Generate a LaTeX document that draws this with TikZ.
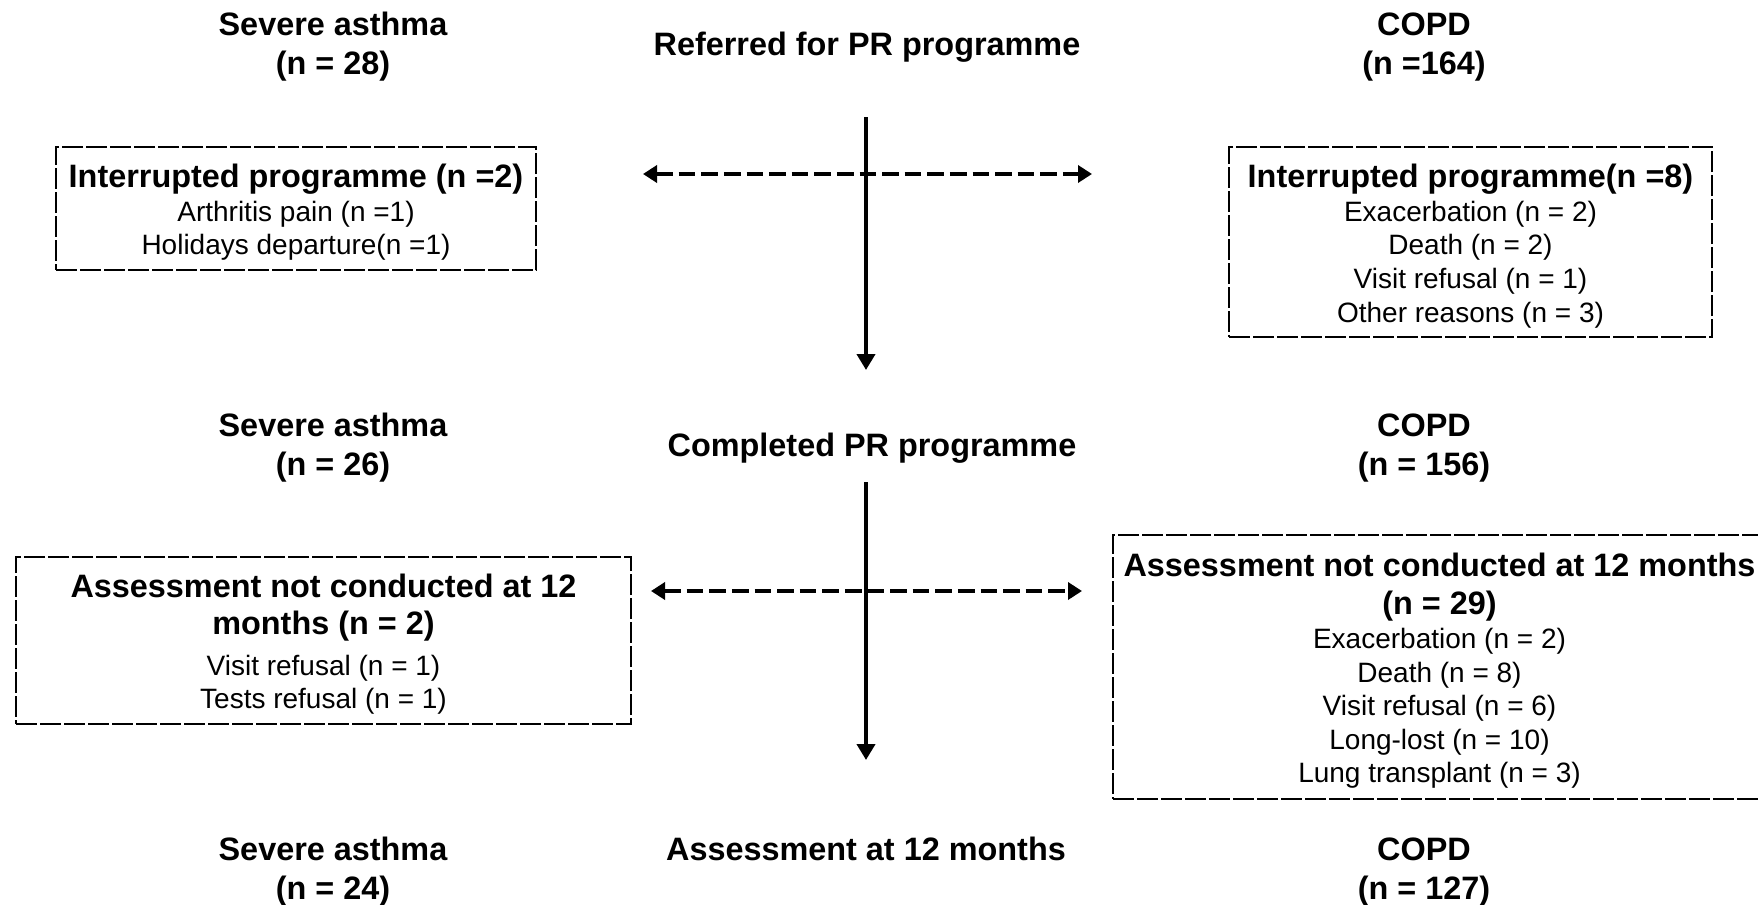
\documentclass[tikz,border=0pt]{standalone}
\usepackage{fontspec}
\setmainfont{Liberation Sans}
\usetikzlibrary{arrows.meta}
\tikzset{
  head/.style={
    font=\bfseries\fontsize{16.2}{19.5}\selectfont,
    align=center,
    inner sep=0pt
  },
  dropbox/.style={
    draw,
    line width=0.7pt,
    dash pattern=on 10.5pt off 1.5pt,
    inner sep=0pt
  },
  reasons/.style={
    align=center,
    font=\fontsize{14}{16.8}\selectfont,
    inner sep=0pt
  },
  flow/.style={line width=2pt, -{Triangle[length=8pt,width=9pt]}},
  exclude/.style={
    line width=2pt,
    dash pattern=on 8.3pt off 3pt,
    {Triangle[length=7pt,width=8.5pt]}-{Triangle[length=7pt,width=8.5pt]}
  }
}
\newcommand{\boxtitle}[1]{{\bfseries\fontsize{16.2}{19}\selectfont #1}}

\begin{document}
\begin{tikzpicture}[x=0.5pt,y=-0.5pt]
  \useasboundingbox (0,0) rectangle (1758,905);
  % referred
  \node[head] (asthma1) at (333,47) {Severe asthma\\(n = 28)};
  \node[head] (referred) at (867,47) {Referred for PR programme};
  \node[head] (copd1) at (1424,47) {COPD\\(n =164)};
  \coordinate (top1) at (866,117);
  \coordinate (tip1) at (866,370);
  \coordinate (left1) at (643,174);
  \coordinate (right1) at (1092,174);
  \draw[exclude] (left1) -- (right1);
  \draw[flow] (top1) -- (tip1);
  \node[dropbox, minimum width=240pt, minimum height=61.5pt] (stop1a) at (296,208.5) {};
  \node[reasons] (why1a) at ([yshift=-2pt]stop1a.center)
    {\boxtitle{Interrupted programme (n =2)}\\
     Arthritis pain (n =1)\\
     Holidays departure(n =1)};
  \node[dropbox, minimum width=241.5pt, minimum height=95pt] (stop1c) at (1470.5,242) {};
  \node[reasons] (why1c) at ([yshift=-2pt]stop1c.center)
    {\boxtitle{Interrupted programme(n =8)}\\
     Exacerbation (n = 2)\\
     Death (n = 2)\\
     Visit refusal (n = 1)\\
     Other reasons (n = 3)};
  % completed
  \node[head] (asthma2) at (333,448) {Severe asthma\\(n = 26)};
  \node[head] (completed) at (872,448) {Completed PR programme};
  \node[head] (copd2) at (1424,448) {COPD\\(n = 156)};
  \coordinate (top2) at (866,482);
  \coordinate (tip2) at (866,760);
  \coordinate (left2) at (651,591);
  \coordinate (right2) at (1082,591);
  \draw[exclude] (left2) -- (right2);
  \draw[flow] (top2) -- (tip2);
  \node[dropbox, minimum width=307.5pt, minimum height=83.5pt] (stop2a) at (323.5,640.5) {};
  \node[reasons] (why2a) at ([yshift=-1.8pt]stop2a.center)
    {\boxtitle{Assessment not conducted at 12}\\[1.8pt]
     \boxtitle{months (n = 2)}\\[3.5pt]
     Visit refusal (n = 1)\\
     Tests refusal (n = 1)};
  \node[dropbox, minimum width=324.5pt, minimum height=132pt] (stop2c) at (1437.5,667) {};
  \node[reasons] (why2c) at ([xshift=1pt,yshift=-2pt]stop2c.center)
    {\boxtitle{Assessment not conducted at 12 months}\\[2.2pt]
     \boxtitle{(n = 29)}\\
     Exacerbation (n = 2)\\
     Death (n = 8)\\
     Visit refusal (n = 6)\\
     Long-lost (n = 10)\\
     Lung transplant (n = 3)};
  % 12 months
  \node[head] (asthma3) at (333,872) {Severe asthma\\(n = 24)};
  \node[head] (assessed) at (866,849) {Assessment at 12 months};
  \node[head] (copd3) at (1424,872) {COPD\\(n = 127)};
\end{tikzpicture}
\end{document}
